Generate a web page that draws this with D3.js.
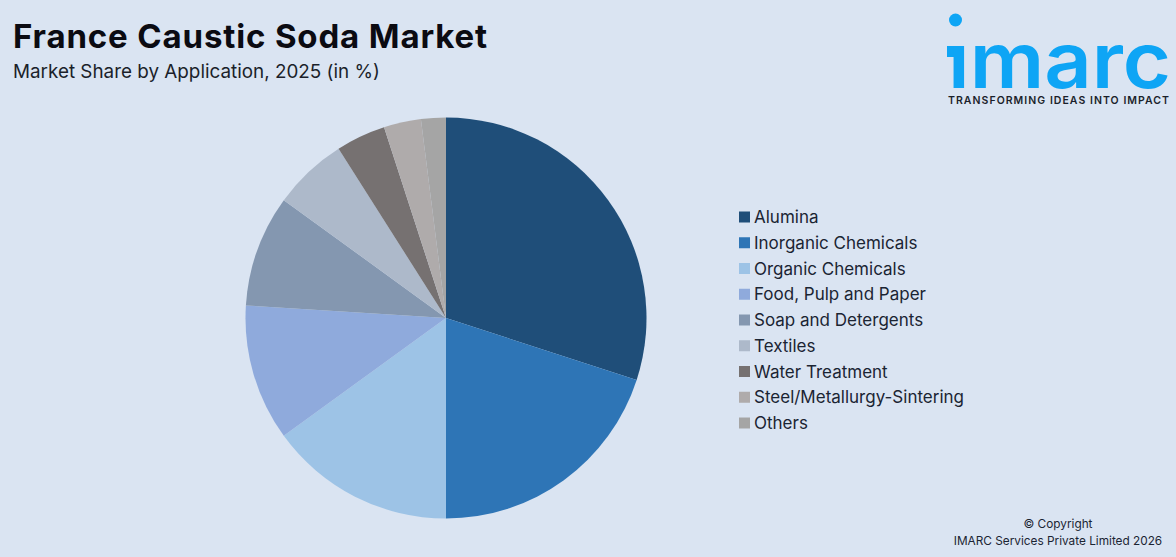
<!DOCTYPE html>
<html>
<head>
<meta charset="utf-8">
<script src="https://cdn.jsdelivr.net/npm/d3@7"></script>
<style>
  html, body { margin: 0; padding: 0; background: #dae4f2; }
  text { font-family: Inter, "Noto Sans", sans-serif; }
</style>
</head>
<body>
<div class="dataviz"></div>
<script>
var categories = ["Alumina", "Inorganic Chemicals", "Organic Chemicals", "Food, Pulp and Paper",
  "Soap and Detergents", "Textiles", "Water Treatment", "Steel/Metallurgy-Sintering", "Others"];
var shares = [30, 20, 15, 11, 9, 6, 4, 3, 2];
var colours = ["#1f4e79", "#2e75b6", "#9dc3e6", "#8faadc", "#8497b0", "#adb9ca", "#767171", "#afabab", "#a5a5a5"];

var width = 1176, height = 557;

var canvas = d3.select(".dataviz").append("svg")
  .attr("width", width)
  .attr("height", height)
  .style("display", "block");

canvas.append("rect")
  .attr("width", width)
  .attr("height", height)
  .attr("fill", "#dae4f2");

// title block
canvas.append("text").attr("x", 13).attr("y", 48)
  .attr("font-size", 33).attr("font-weight", 700).attr("fill", "#0b0b12")
  .attr("letter-spacing", 0.85)
  .text("France Caustic Soda Market");
canvas.append("text").attr("x", 13).attr("y", 78)
  .attr("font-size", 18.85).attr("fill", "#1b1f2a")
  .text("Market Share by Application, 2025 (in %)");

// pie
var pie = d3.pie().sort(null).value(function(d) {return d});
var arc = d3.arc().innerRadius(0).outerRadius(200.5);

canvas.append("g")
  .attr("transform", "translate(446,318)")
  .selectAll("path").data(pie(shares)).enter()
  .append("path")
  .attr("d", arc)
  .attr("fill", function(d, i) {return colours[i]});

// legend
var legendY = d3.scalePoint().domain(categories).range([217, 423]);

var legend = canvas.append("g").selectAll("g").data(categories).enter()
  .append("g")
  .attr("transform", function(d) {return "translate(739," + legendY(d) + ")"});

legend.append("rect")
  .attr("x", 0).attr("y", -5.5)
  .attr("width", 11).attr("height", 11)
  .attr("fill", function(d, i) {return colours[i]});

legend.append("text")
  .attr("x", 15).attr("y", 6)
  .attr("font-size", 17).attr("fill", "#1b2433")
  .text(function(d) {return d});

// logo
var logo = canvas.append("g");
var blue = "#0ea5f5";
logo.append("circle").attr("cx", 955.5).attr("cy", 20).attr("r", 6.5).attr("fill", blue);
logo.append("rect").attr("x", 947).attr("y", 46).attr("width", 10).attr("height", 11).attr("fill", blue);
logo.append("text").attr("x", 948).attr("y", 88)
  .attr("font-size", 77).attr("font-weight", 600).attr("fill", blue)
  .attr("textLength", 223).attr("lengthAdjust", "spacingAndGlyphs")
  .text("ımarc");
logo.append("text").attr("x", 948).attr("y", 104)
  .attr("font-size", 10.5).attr("font-weight", 600).attr("fill", "#1a1f2b")
  .attr("textLength", 221).attr("lengthAdjust", "spacing")
  .text("TRANSFORMING IDEAS INTO IMPACT");

// copyright
canvas.append("text").attr("x", 1058).attr("y", 528).attr("text-anchor", "middle")
  .attr("font-size", 11.8).attr("fill", "#1b2433").text("© Copyright");
canvas.append("text").attr("x", 1058).attr("y", 545).attr("text-anchor", "middle")
  .attr("font-size", 11.8).attr("fill", "#1b2433").text("IMARC Services Private Limited 2026");
</script>
</body>
</html>
